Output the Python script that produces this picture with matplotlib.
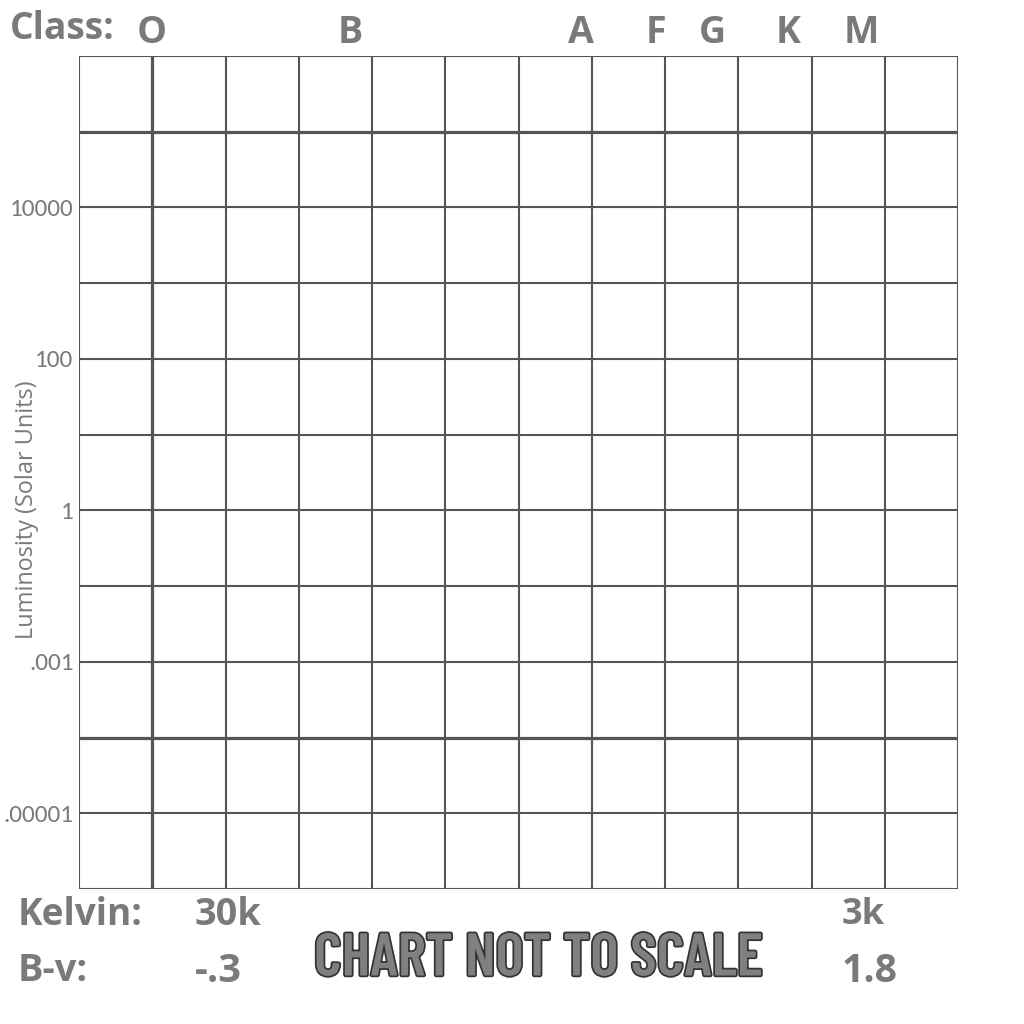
import matplotlib
matplotlib.use("Agg")
import matplotlib.pyplot as plt
import matplotlib.patheffects as pe

# Data
classes = ['O', 'B', 'A', 'F', 'G', 'K', 'M']
class_pos = [1.0, 3.7, 6.85, 7.88, 8.65, 9.68, 10.68]
lum_labels = ['10000', '100', '1', '.001', '.00001']
lum_pos = [9, 7, 5, 3, 1]
n_cols = 12
n_rows = 11
thick_x = [1]
thick_y = [10, 2]
kelvin_labels = ['30k', '3k']
bv_labels = ['-.3', '1.8']

grid_c = '#555555'
text_c = '#7a7a7a'

plt.rcParams['font.family'] = ['Open Sans', 'DejaVu Sans']

fig = plt.figure(figsize=(10.24, 10.24), dpi=100)
W = H = 1024
ax = fig.add_axes([79 / W, (H - 889) / H, 879 / W, 833 / H])
ax.set_xlim(0, n_cols)
ax.set_ylim(0, n_rows)
renderer = fig.canvas.get_renderer()


def fit(t, target, dim='w'):
    for _ in range(3):
        bb = t.get_window_extent(renderer)
        cur = bb.width if dim == 'w' else bb.height
        if cur > 0:
            t.set_fontsize(t.get_fontsize() * target / cur)
    return t


for x in range(n_cols + 1):
    ax.axvline(x, color=grid_c, lw=1.5 if x not in thick_x else 2.3, zorder=2)
for y in range(n_rows + 1):
    ax.axhline(y, color=grid_c, lw=1.5 if y not in thick_y else 2.3, zorder=2)

for s in ax.spines.values():
    s.set_visible(False)

ax.set_xticks([])
ax.set_yticks(lum_pos)
ax.set_yticklabels(lum_labels, fontsize=18, color=text_c, family='Carlito')
ax.tick_params(axis='y', length=0, pad=4)
fig.canvas.draw()
lab = ax.get_yticklabels()[-1]
bb = lab.get_window_extent(renderer)
ax.tick_params(axis='y', labelsize=18 * 70 / bb.width)

ylab = ax.set_ylabel('Luminosity (Solar Units)', fontsize=14, color=text_c)
fit(ylab, 258, 'h')
ax.yaxis.set_label_coords(-0.045, 0.455)

for c, p in zip(classes, class_pos):
    t = ax.text(p, 11.3, c, fontsize=27, fontweight='bold', color=text_c,
                ha='center', va='center', clip_on=False)
    if c == 'O':
        fit(t, 30)

kw = dict(fontsize=27, fontweight='bold', color=text_c, ha='left', va='center')
fit(fig.text(10 / W, 1 - 29 / H, 'Class:', **kw), 105)
fit(fig.text(18 / W, 1 - 915 / H, 'Kelvin:', **kw), 125)
fit(fig.text(18 / W, 1 - 971 / H, 'B-v:', **kw), 70)
fit(fig.text(195 / W, 1 - 915 / H, kelvin_labels[0], **kw), 67)
fit(fig.text(195 / W, 1 - 971 / H, bv_labels[0], **kw), 47)
fit(fig.text(842 / W, 1 - 915 / H, kelvin_labels[1], **kw), 43)
fit(fig.text(842 / W, 1 - 971 / H, bv_labels[1], **kw), 56)

cn = fig.text(538 / W, 1 - 960 / H, 'CHART NOT TO SCALE', fontsize=40,
              family='Barlow Condensed', fontweight='semibold', color='#808080',
              ha='center', va='center',
              path_effects=[pe.withStroke(linewidth=2.5, foreground='#333333')])
fit(cn, 448)

fig.savefig('out.png', dpi=100, facecolor='white')
